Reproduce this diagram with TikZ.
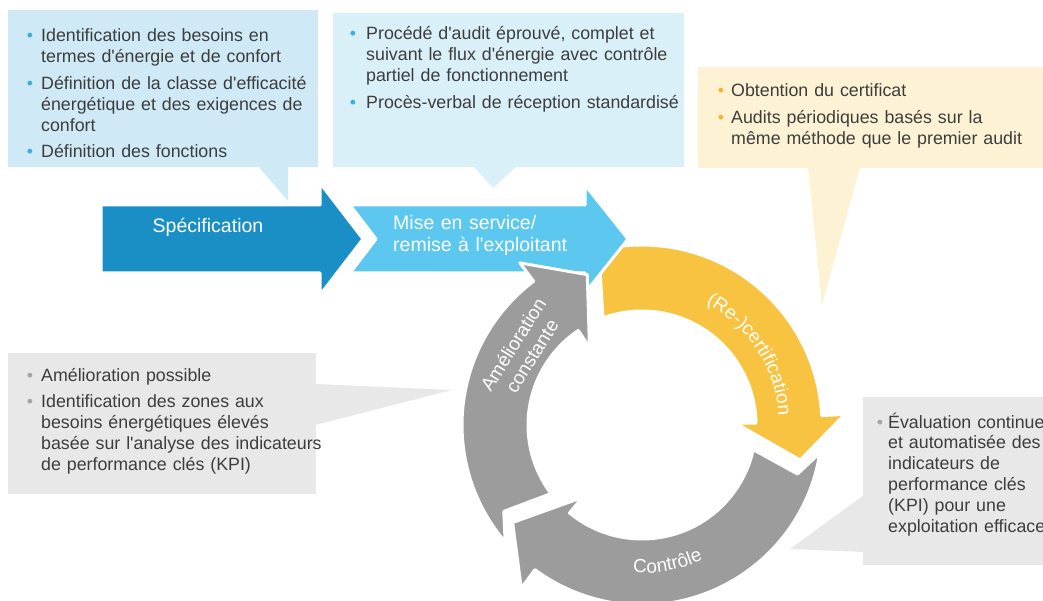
\documentclass[tikz,border=0pt]{standalone}
\usepackage{fontspec}
\setmainfont{Liberation Sans}[Ligatures=TeXOff]
\usetikzlibrary{decorations.text}
\definecolor{specblue}{HTML}{1A8FC6}
\definecolor{cyanarrow}{HTML}{5CC8F0}
\definecolor{yel}{HTML}{F7C340}
\definecolor{grayarrow}{HTML}{9C9C9C}
\definecolor{boxblue}{HTML}{CFE9F6}
\definecolor{boxcyan}{HTML}{DAF0F9}
\definecolor{boxyel}{HTML}{FDF3D4}
\definecolor{boxgray}{HTML}{E8E8E8}
\definecolor{txt}{HTML}{3D3D3D}
\definecolor{bulblue}{HTML}{3AAEE0}
\definecolor{bulyel}{HTML}{F5B530}
\definecolor{bulgray}{HTML}{A5A5A5}
\newcommand\bul[2]{\leavevmode\llap{\textcolor{#1}{•}\hspace{#2}}}
\newcommand\arcfont{\fontsize{19}{19}\selectfont}
\begin{document}
\begin{tikzpicture}[x=1pt,y=-1pt,
  boxtext/.style={inner sep=0pt, text width=400pt, align=left, text=txt,
    font=\fontsize{17.8}{20.8}\selectfont, anchor=base west},
  shapeline/.style={draw=white, line width=3pt, line join=round},
  arrowlabel/.style={text=white, font=\fontsize{19.5}{21.5}\selectfont, inner sep=0pt}]
\useasboundingbox (0,0) rectangle (1043,601);
\fill[white] (0,0) rectangle (1043,601);

% callout boxes
\fill[boxblue] (8,10) rectangle (318,167);
\fill[boxblue] (258,166) -- (288,166) -- (288,201) -- cycle;
\fill[boxcyan] (333,13) rectangle (684,167);
\fill[boxcyan] (473,166) -- (517,166) -- (493,188) -- cycle;
\fill[boxyel] (698,67) rectangle (1043,168);
\fill[boxyel] (808,167) -- (860,167) -- (822,305) -- cycle;
\fill[boxgray] (8,353) rectangle (316,494);
\fill[boxgray] (315,384) -- (452,390) -- (315,425) -- cycle;
\fill[boxgray] (863,397) rectangle (1043,565);
\fill[boxgray] (864,495) -- (790,549) -- (864,552) -- cycle;

% texts of the boxes
\node[boxtext] (t1) at (41,42) {\bul{bulblue}{8pt}Identification des besoins en\\
termes d'énergie et de confort\\[6pt]
\bul{bulblue}{8pt}Définition de la classe d'efficacité\\
énergétique et des exigences de\\
confort\\[6pt]
\bul{bulblue}{8pt}Définition des fonctions};
\node[boxtext] (t2) at (366,40) {\bul{bulblue}{10pt}Procédé d'audit éprouvé, complet et\\
suivant le flux d'énergie avec contrôle\\
partiel de fonctionnement\\[6pt]
\bul{bulblue}{10pt}Procès-verbal de réception standardisé};
\node[boxtext] (t3) at (731,97) {\bul{bulyel}{7pt}Obtention du certificat\\[6pt]
\bul{bulyel}{7pt}Audits périodiques basés sur la\\
même méthode que le premier audit};
\node[boxtext] (t4) at (41,381) {\bul{bulgray}{8pt}Amélioration possible\\[6pt]
\bul{bulgray}{8pt}Identification des zones aux\\
besoins énergétiques élevés\\
basée sur l'analyse des indicateurs\\
de performance clés (KPI)};
\node[boxtext] (t5) at (888,428) {\bul{bulgray}{5pt}Évaluation continue\\
et automatisée des\\
indicateurs de\\
performance clés\\
(KPI) pour une\\
exploitation efficace};

% cycle
\begin{scope}[shift={(642,425)}]
  % (Re-)certification, yellow
  \path[fill=yel, shapeline] (-113.5:180) arc[start angle=-113.5, end angle=-3, radius=180]
     -- (-3:203) -- (12.5:162) -- (-1:94) -- (-1:114)
     arc[start angle=-1, end angle=-110, radius=114] -- (-105:163) -- cycle;
\end{scope}

% Mise en service arrow
\path[fill=cyanarrow, shapeline] (350,205) -- (585,205) -- (585,185) -- (628,239)
   -- (585,293) -- (585,273) -- (350,273) -- (376,239) -- cycle;

\begin{scope}[shift={(642,425)}]
  % Amelioration constante, gray
  \path[fill=grayarrow, shapeline] (-220.5:180) arc[start angle=-220.5, end angle=-127, radius=180]
     -- (-127:203) -- (-110:160) -- (-124:94) -- (-124:114)
     arc[start angle=-124, end angle=-217, radius=114] -- (-212:163) -- cycle;
  % Controle, gray
  \path[fill=grayarrow, shapeline] (9:180) arc[start angle=9, end angle=126.5, radius=180]
     -- (126.5:203) -- (143:162) -- (129.5:94) -- (129.5:114)
     arc[start angle=129.5, end angle=12.5, radius=114] -- (17.5:163) -- cycle;
  % labels
  \node[arrowlabel, rotate=58, align=center, font=\fontsize{19}{22}\selectfont] (amel) at (-148:141)
     {Amélioration\\constante};
  \path[decorate, decoration={text along path, text={|\arcfont|(Re-)certification},
     text align=center, text color=white}]
     (-83:137) arc[start angle=-83, end angle=17, radius=137];
  \path[decorate, decoration={text along path, text={|\arcfont|Contrôle},
     text align=center, text color=white}]
     (-250:148) arc[start angle=-250, end angle=-311, radius=148];
\end{scope}

% Specification arrow
\path[fill=specblue, shapeline] (101,205) -- (320,205) -- (320,183) -- (363,239)
   -- (320,295) -- (320,273) -- (101,273) -- cycle;

\node[arrowlabel, anchor=base] (spec) at (208,233) {Spécification};
\node[arrowlabel, anchor=base west, text width=220pt, align=left] (mise) at (393,230)
   {Mise en service/\\remise à l'exploitant};
\end{tikzpicture}
\end{document}
